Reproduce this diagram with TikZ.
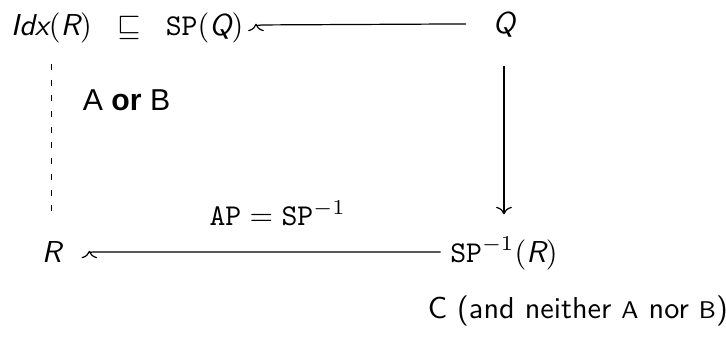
\documentclass[tikz,border=0pt]{standalone}
\usepackage{amsmath, amssymb}
\usepackage{fontspec}
\renewcommand{\familydefault}{\sfdefault}
\newfontfamily\labelfont{Liberation Sans}
\usepackage{tikz}
\usetikzlibrary{positioning,arrows.meta}
\newcommand{\sfit}[1]{\textsf{\itshape #1}}
\tikzset{
  mapto/.style={-{To}},
  cell/.style={inner sep=2pt, text height=1.8ex, text depth=.3ex, anchor=base},
  maplabel/.style={inner sep=3.33pt},
  region/.style={inner sep=0pt}
}

\begin{document}
\begin{tikzpicture}[>=To]
  \useasboundingbox (0,0) rectangle (8.442,-3.988);
  \node[cell, anchor=base west] (top) at (0.05,-0.407) {$\sfit{Idx}(\sfit{R}) \;\;\sqsubseteq\;\; \mathtt{SP}(\sfit{Q})$};
  \node[cell] (Q) at (5.86,-0.395) {$\sfit{Q}$};
  \node[cell] (R) at (0.599,-3.047) {$\sfit{R}$};
  \node[cell] (spinv) at (5.86,-3.047) {$\mathtt{SP}^{-1}(\sfit{R})$};
  \node[region, anchor=base] (aorb) at (1.471,-1.279) {\labelfont A \textbf{or} B};
  \node[region, anchor=base east] (neither) at (8.47,-3.698) {C (and neither {\footnotesize A} nor {\footnotesize B})};
  \draw[mapto] ([xshift=-6.6pt]Q.west) -- ([xshift=4pt]top.east) to[out=180,in=-90] ++(-2pt,0.4pt);
  \draw[mapto, shorten <=7pt, shorten >=5.6pt] (Q.south) -- (spinv.north);
  \draw[mapto] ([xshift=-1pt]spinv.west) -- node[maplabel, pos=.47, above=5pt] {$\mathtt{AP} = \mathtt{SP}^{-1}$} ([xshift=8.6pt]R.east) to[out=180,in=-90] ++(-1.5pt,0.4pt);
  \draw[dash pattern=on 2pt off 3.2pt, shorten <=6pt, shorten >=5.6pt] (R.north |- top.south) -- (R.north);
\end{tikzpicture}
\end{document}
